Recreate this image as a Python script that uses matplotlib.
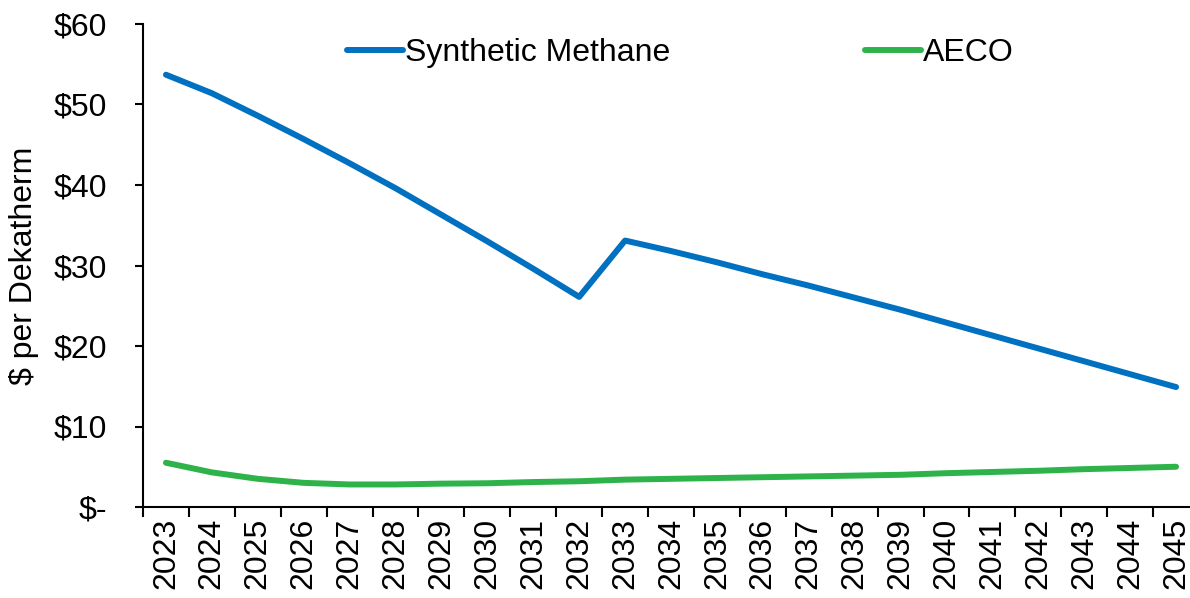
import matplotlib
matplotlib.use("Agg")
import matplotlib.pyplot as plt
from matplotlib.ticker import FixedLocator, FuncFormatter

plt.rcParams["font.family"] = ["Liberation Sans", "DejaVu Sans"]

years = [str(y) for y in range(2023, 2046)]

# $ per Dekatherm
synthetic_methane = [53.7, 51.4, 48.6, 45.7, 42.7, 39.6, 36.3, 33.0, 29.6, 26.1,
                     33.1, 31.8, 30.4, 28.9, 27.5, 26.0, 24.5, 22.9, 21.3, 19.7,
                     18.1, 16.5, 14.9]
aeco = [5.5, 4.3, 3.5, 3.0, 2.8, 2.8, 2.9, 2.95, 3.1, 3.2,
        3.4, 3.5, 3.6, 3.7, 3.8, 3.9, 4.0, 4.2, 4.35, 4.5,
        4.7, 4.85, 5.0]

fs = 23

fig = plt.figure(figsize=(11.9, 5.98), dpi=100)
ax = fig.add_axes([143 / 1190, 1 - 507 / 598, (1199 - 143) / 1190, 483 / 598])

x = list(range(len(years)))
ax.plot(x, synthetic_methane, color="#0070C0", lw=4.3, solid_capstyle="round",
        solid_joinstyle="round", label="Synthetic Methane")
ax.plot(x, aeco, color="#2EB34B", lw=4.3, solid_capstyle="round",
        solid_joinstyle="round", label="AECO")

ax.set_xlim(-0.5, len(years) - 0.5)
ax.set_ylim(0, 60)
ax.set_yticks(range(0, 61, 10))
ax.yaxis.set_major_formatter(FuncFormatter(lambda v, p: "$-" if v == 0 else f"${v:.0f}"))

ax.set_xticks(x)
ax.set_xticklabels(years, rotation=90)
ax.xaxis.set_minor_locator(FixedLocator([i - 0.5 for i in range(len(years) + 1)]))
ax.tick_params(axis="x", which="major", length=0, pad=8, labelsize=fs)
ax.tick_params(axis="x", which="minor", length=7, width=1.5, direction="out")
ax.tick_params(axis="y", length=6, width=1.5, direction="out", labelsize=fs, pad=20)

for s in ["top", "right"]:
    ax.spines[s].set_visible(False)
for s in ["left", "bottom"]:
    ax.spines[s].set_linewidth(1.5)

ax.set_ylabel("$ per Dekatherm", fontsize=fs, labelpad=10)

ax.legend(loc="center left", bbox_to_anchor=(0.193, 0.94), ncol=2, frameon=False,
          fontsize=fs, handlelength=1.75, handletextpad=0.06, columnspacing=6.1,
          borderpad=0, borderaxespad=0)

fig.savefig("out.png", dpi=100)
